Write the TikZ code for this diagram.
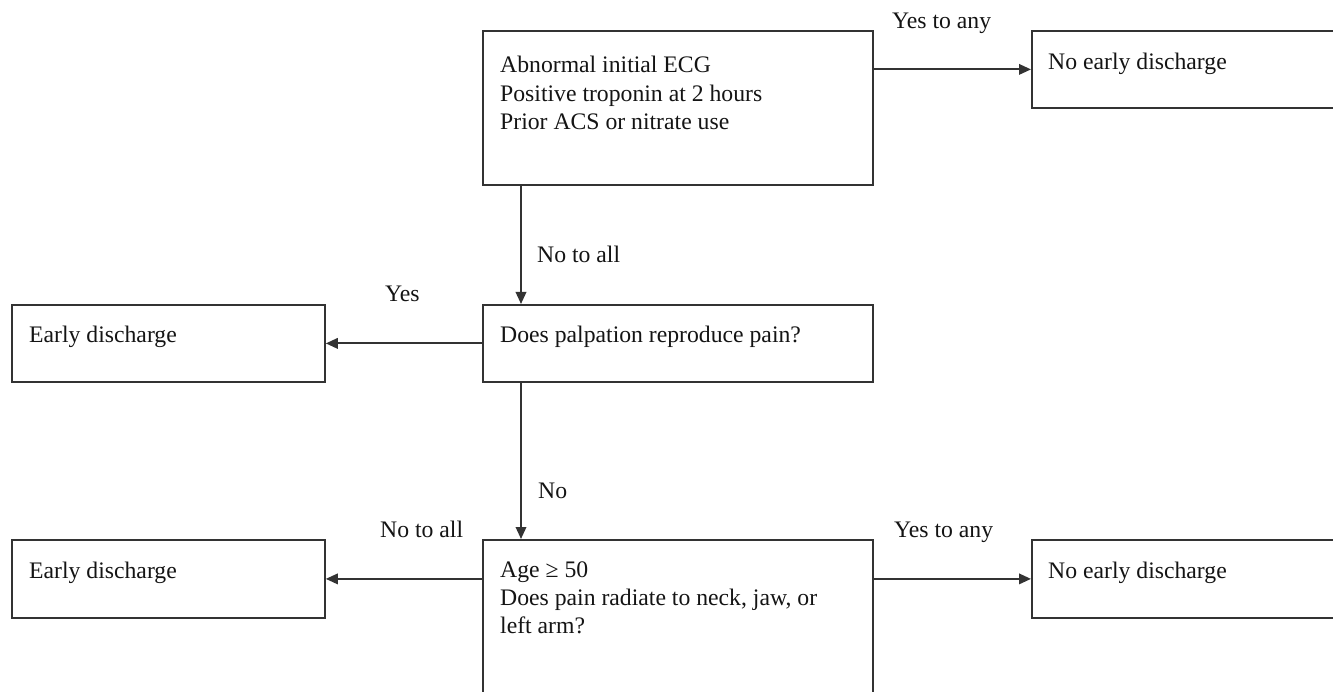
\documentclass[tikz,border=0pt]{standalone}
\usepackage{fontspec}
\setmainfont{Liberation Serif}
\usetikzlibrary{arrows.meta}
\begin{document}
\begin{tikzpicture}[x=1pt,y=-1pt,
  box/.style={draw=black!80, line width=1.8pt, rectangle, inner sep=0pt, anchor=north west},
  txt/.style={anchor=base west, inner sep=0pt, font=\fontsize{23.7}{28.5}\selectfont, text=black!92, align=left},
  conn/.style={draw=black!80, line width=1.9pt, -{Triangle[length=12pt,width=10.5pt]}}]
\clip (0,0) rectangle (1333,692);
% boxes
\node[box, minimum width=390pt, minimum height=154pt] (b1) at (482,30) {};
\node[box, minimum width=320pt, minimum height=77pt] (r1) at (1031,30) {};
\node[box, minimum width=390pt, minimum height=77pt] (m) at (482,304) {};
\node[box, minimum width=313pt, minimum height=77pt] (l1) at (11,304) {};
\node[box, minimum width=313pt, minimum height=78pt] (l2) at (11,539) {};
\node[box, minimum width=390pt, minimum height=200pt] (b3) at (482,539) {};
\node[box, minimum width=320pt, minimum height=78pt] (r2) at (1031,539) {};
% box texts
\node[txt] (t1a) at (500,73) {Abnormal initial ECG};
\node[txt] (t1b) at (500,101.5) {Positive troponin at 2 hours};
\node[txt] (t1c) at (500,130) {Prior ACS or nitrate use};
\node[txt] (tr1) at (1048,70) {No early discharge};
\node[txt] (tm) at (500,343) {Does palpation reproduce pain?};
\node[txt] (tl1) at (29,343) {Early discharge};
\node[txt] (t3a) at (500,577) {Age ≥ 50};
\node[txt] (t3b) at (500,605) {Does pain radiate to neck, jaw, or};
\node[txt] (t3c) at (500,633) {left arm?};
\node[txt] (tl2) at (29,578) {Early discharge};
\node[txt] (tr2) at (1048,578) {No early discharge};
% connectors
\draw[conn] (b1.east |- r1.west) -- (r1.west);
\draw[conn] ([xshift=39pt]b1.south west) -- ([xshift=39pt]m.north west);
\draw[conn] (m.west) -- (l1.east);
\draw[conn] ([xshift=39pt]m.south west) -- ([xshift=39pt]b3.north west);
\draw[conn] (b3.west |- l2.east) -- (l2.east);
\draw[conn] (b3.east |- r2.west) -- (r2.west);
% connector labels
\node[txt] (y1) at (892,29) {Yes to any};
\node[txt] (n1) at (537,263) {No to all};
\node[txt] (y2) at (385,302) {Yes};
\node[txt] (n2) at (538,498) {No};
\node[txt] (n3) at (380,537) {No to all};
\node[txt] (y3) at (894,537) {Yes to any};
\end{tikzpicture}
\end{document}
